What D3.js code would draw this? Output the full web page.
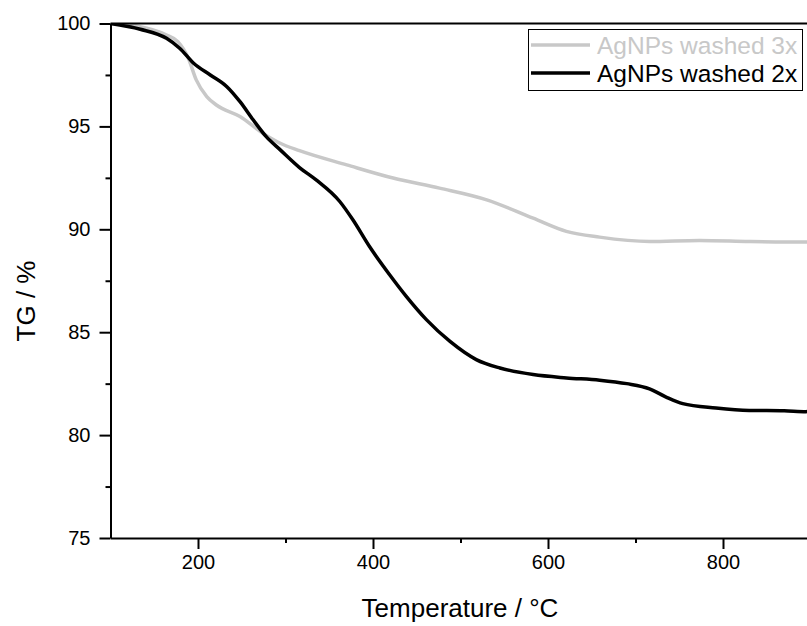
<!DOCTYPE HTML>
<html>
    <head>
        <meta charset="utf-8">
        <style>
            body { margin: 0; background: #fff; }
            svg { font-family: "Liberation Sans", Arial, sans-serif; }
            .line { fill: none; stroke-width: 3.5px; stroke-linejoin: round; }
            .axis path, .axis line { stroke: #000; stroke-width: 2px; }
            .axis text { font-size: 20px; fill: #000; }
        </style>
        <script src="https://d3js.org/d3.v7.min.js"></script>
    </head>
    <body>
        <svg width="807" height="626"></svg>
        <script>
            // AgNPs washed 3x (grey)
            var temp3 = [100, 130, 164, 177, 189, 198, 210, 221, 248, 274, 294, 316, 370, 423, 476, 530, 583, 621, 659, 716, 773, 830, 895, 900];
            var tg3   = [100, 99.88, 99.44, 99.12, 98.31, 97.26, 96.45, 96.04, 95.48, 94.67, 94.18, 93.82, 93.13, 92.49, 92.0, 91.43, 90.54, 89.9, 89.62, 89.41, 89.46, 89.41, 89.38, 89.38];

            // AgNPs washed 2x (black)
            var temp2 = [100, 134, 164, 179, 195, 214, 233, 248, 263, 278, 294, 316, 335, 362, 377, 396, 419, 438, 461, 488, 518, 545, 583, 621, 659, 690, 716, 735, 754, 792, 830, 870, 895, 900];
            var tg2   = [100, 99.72, 99.28, 98.8, 98.07, 97.5, 96.93, 96.2, 95.32, 94.5, 93.86, 93.0, 92.4, 91.35, 90.46, 89.16, 87.79, 86.74, 85.61, 84.55, 83.67, 83.26, 82.94, 82.78, 82.67, 82.5, 82.25, 81.85, 81.53, 81.32, 81.2, 81.18, 81.14, 81.16];

            var xTicks = [200, 400, 600, 800];
            var yTicks = [75, 80, 85, 90, 95, 100];

            var svg = d3.select("svg");

            var x = d3.scaleLinear().domain([100, 900]).range([110.5, 810.5]);
            var y = d3.scaleLinear().domain([75, 100]).range([538, 23.5]);

            // clip to plot area
            svg.append("clipPath").attr("id", "plot")
               .append("rect")
               .attr("x", x(100)).attr("y", y(100))
               .attr("width", x(900) - x(100)).attr("height", y(75) - y(100));

            var line = d3.line()
                         .x(function(d) { return x(d[0]); })
                         .y(function(d) { return y(d[1]); })
                         .curve(d3.curveMonotoneX);

            svg.append("path")
               .datum(d3.zip(temp3, tg3))
               .attr("class", "line")
               .attr("clip-path", "url(#plot)")
               .attr("stroke", "#c8c8c8")
               .attr("d", line);

            svg.append("path")
               .datum(d3.zip(temp2, tg2))
               .attr("class", "line")
               .attr("clip-path", "url(#plot)")
               .attr("stroke", "#000")
               .attr("d", line);

            // minor ticks first, then major ticks with labels
            svg.append("g")
               .attr("class", "axis")
               .attr("transform", "translate(0," + y(75) + ")")
               .call(d3.axisBottom(x).tickValues([300, 500, 700]).tickSize(5).tickFormat(""))
               .select(".domain").remove();

            svg.append("g")
               .attr("class", "axis")
               .attr("transform", "translate(0," + y(75) + ")")
               .call(d3.axisBottom(x).tickValues(xTicks).tickSize(11).tickSizeOuter(0).tickPadding(6));

            svg.append("g")
               .attr("class", "axis")
               .attr("transform", "translate(" + x(100) + ",0)")
               .call(d3.axisLeft(y).tickValues([77.5, 82.5, 87.5, 92.5, 97.5]).tickSize(5).tickFormat(""))
               .select(".domain").remove();

            svg.append("g")
               .attr("class", "axis")
               .attr("transform", "translate(" + x(100) + ",0)")
               .call(d3.axisLeft(y).tickValues(yTicks).tickSize(11).tickSizeOuter(0).tickPadding(9));

            // top spine
            svg.append("line")
               .attr("x1", x(100)).attr("x2", x(900))
               .attr("y1", y(100)).attr("y2", y(100))
               .attr("stroke", "#000").attr("stroke-width", 2);

            // axis titles
            svg.append("text")
               .attr("x", 460).attr("y", 617)
               .attr("text-anchor", "middle")
               .attr("font-size", "26px")
               .text("Temperature / °C");

            svg.append("text")
               .attr("transform", "translate(35,301) rotate(-90)")
               .attr("text-anchor", "middle")
               .attr("font-size", "26px")
               .text("TG / %");

            // legend
            var legend = svg.append("g");
            legend.append("rect")
                  .attr("x", 528.5).attr("y", 29.5)
                  .attr("width", 274).attr("height", 61)
                  .attr("fill", "#fff").attr("stroke", "#000").attr("stroke-width", 1);

            var entries = [["AgNPs washed 3x", "#c8c8c8"], ["AgNPs washed 2x", "#000"]];
            entries.forEach(function(e, i) {
                var ly = 45 + i * 28;
                legend.append("line")
                      .attr("x1", 531).attr("x2", 590)
                      .attr("y1", ly).attr("y2", ly)
                      .attr("stroke", e[1]).attr("stroke-width", 3.5);
                legend.append("text")
                      .attr("x", 597).attr("y", ly + 8.5)
                      .attr("font-size", "24.5px")
                      .attr("fill", e[1])
                      .text(e[0]);
            });
        </script>
    </body>
</html>
